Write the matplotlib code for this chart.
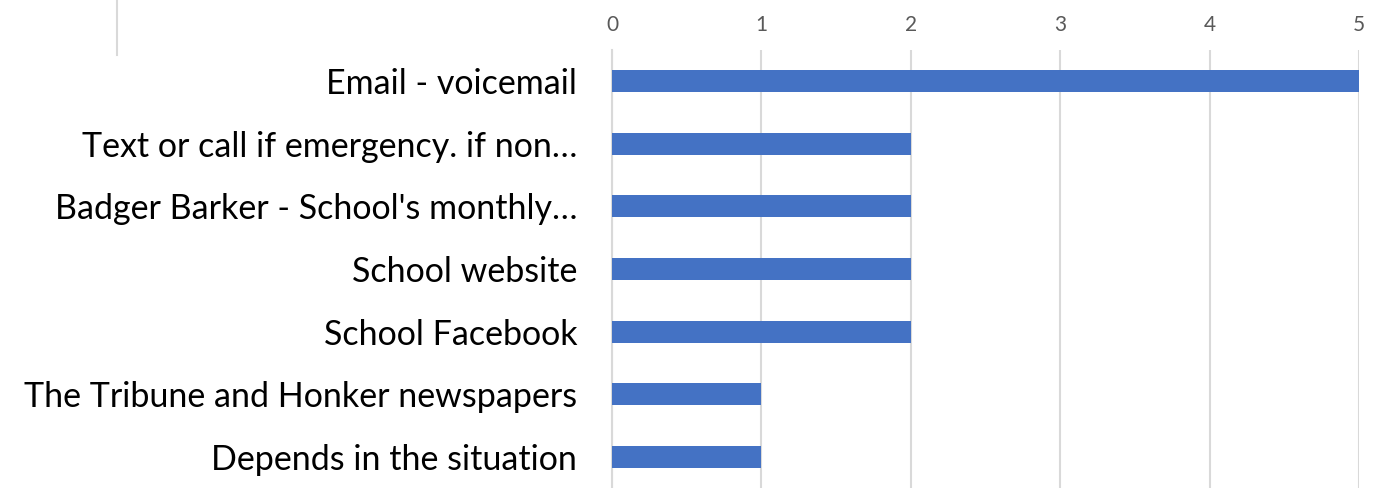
import matplotlib
matplotlib.use("Agg")
import matplotlib.pyplot as plt
from matplotlib.lines import Line2D

categories = [
    "Email - voicemail",
    "Text or call if emergency. if non…",
    "Badger Barker - School's monthly…",
    "School website",
    "School Facebook",
    "The Tribune and Honker newspapers",
    "Depends in the situation",
]
values = [5, 2, 2, 2, 2, 1, 1]
xticks = [0, 1, 2, 3, 4, 5]

plt.rcParams['font.family'] = ['Lato', 'DejaVu Sans']

fig = plt.figure(figsize=(13.81, 4.88), dpi=100)
ax = fig.add_axes([612/1381, 0, (1359-612)/1381, (488-50)/488])

y = list(range(len(categories)))
ax.barh(y, values, height=0.35, color="#4472C4", zorder=3)
ax.set_ylim(len(categories)-0.5, -0.5)
ax.set_xlim(0, 5)
ax.set_xticks(xticks)
ax.xaxis.tick_top()
ax.tick_params(axis='x', length=0, pad=11, labelsize=15, labelcolor="#595959")
ax.set_yticks(y)
ax.set_yticklabels(categories, fontsize=24.5, color="black")
ax.tick_params(axis='y', length=0, pad=25)
ax.grid(axis='x', color="#D9D9D9", linewidth=1.5, zorder=0)
for s in ['top', 'right', 'bottom']:
    ax.spines[s].set_visible(False)
ax.spines['left'].set_color("#D9D9D9")
ax.spines['left'].set_linewidth(1.5)

fig.add_artist(Line2D([117/1381, 117/1381], [1, 1-55/488], color="#D9D9D9", linewidth=1.5, transform=fig.transFigure))

fig.savefig("out.png", dpi=100)
